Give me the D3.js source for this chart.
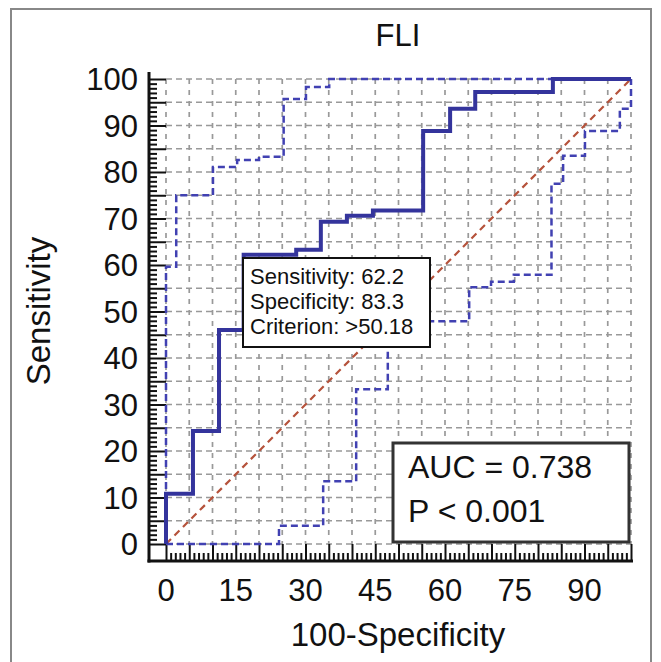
<!DOCTYPE html>
<html>
<head>
<meta charset="utf-8">
<script src="https://cdn.jsdelivr.net/npm/d3@7"></script>
<style>
  body{margin:0;background:#fff;}
  text{font-family:"Liberation Sans",Arial,sans-serif;fill:#111;}
</style>
</head>
<body>
<div id="chart"></div>
<script>
// ROC curve corners (100-specificity, sensitivity)
var rocFpr=[0,5.8,11.4,16.7,28.0,33.3,38.9,44.5,55.3,61.1,66.5,83.2,100];
var rocSens=[0,10.8,24.3,46.0,62.2,63.3,69.3,70.6,71.7,88.8,93.6,97.2,100];
// upper confidence bound
var upFpr=[0,2.2,10.1,15.3,20.0,25.3,30.1,35.1,100];
var upSens=[0,59.6,75.0,81.1,82.6,83.3,95.7,98.3,100];
// lower confidence bound
var lowFpr=[0,24.3,33.8,40.9,47.7,65.2,69.9,74.8,82.9,85.4,90.1,97.6,100];
var lowSens=[0,3.9,13.5,33.3,47.9,55.2,56.4,57.9,77.5,83.5,88.8,93.6,100];

var xTicks=[0,15,30,45,60,75,90];
var yTicks=[0,10,20,30,40,50,60,70,80,90,100];
var title='FLI';
var xLabel='100-Specificity';
var yLabel='Sensitivity';
var cutoffLines=['Sensitivity: 62.2','Specificity: 83.3','Criterion: >50.18'];
var statLines=['AUC = 0.738','P < 0.001'];

var width=661, height=662;
var plotL=166, plotR=631, plotT=79, plotB=544;
var off=17;

var svg=d3.select('#chart').append('svg')
  .attr('width',width)
  .attr('height',height);

svg.append('rect')
  .attr('x',11).attr('y',9)
  .attr('width',640).attr('height',662)
  .attr('fill','none')
  .attr('stroke','#888')
  .attr('stroke-width',2);

var x=d3.scaleLinear().domain([0,100]).range([plotL,plotR]);
var y=d3.scaleLinear().domain([0,100]).range([plotB,plotT]);

var grid=d3.range(0,101,5);

// grid
svg.append('g').selectAll('line')
  .data(grid).enter().append('line')
  .attr('x1',plotL).attr('x2',plotR)
  .attr('y1',function(d){return y(d);})
  .attr('y2',function(d){return y(d);})
  .attr('stroke','#999')
  .attr('stroke-width',1.7)
  .attr('stroke-dasharray','6,4');
svg.append('g').selectAll('line')
  .data(grid).enter().append('line')
  .attr('y1',plotT).attr('y2',plotB)
  .attr('x1',function(d){return x(d);})
  .attr('x2',function(d){return x(d);})
  .attr('stroke','#999')
  .attr('stroke-width',1.7)
  .attr('stroke-dasharray','5,6');

// axes, line offset from plot with ticks pointing inward
var minor=d3.range(0,101,1).filter(function(d){return d%5!=0;});
var yMajor=d3.axisRight(y).tickValues(grid).tickSize(off).tickSizeOuter(0).tickFormat('');
var yMinor=d3.axisRight(y).tickValues(minor).tickSize(8).tickSizeOuter(0).tickFormat('');
var gy=svg.append('g').attr('transform','translate('+(plotL-off)+',0)');
gy.call(yMajor);
gy.append('g').call(yMinor);
var xMajor=d3.axisTop(x).tickValues(grid).tickSize(off).tickSizeOuter(0).tickFormat('');
var xMinor=d3.axisTop(x).tickValues(minor).tickSize(8).tickSizeOuter(0).tickFormat('');
var gx=svg.append('g').attr('transform','translate(0,'+(plotB+off)+')');
gx.call(xMajor);
gx.append('g').call(xMinor);

svg.selectAll('.tick line').attr('stroke','#111').attr('stroke-width',2);
svg.selectAll('.domain').remove();
svg.append('line')
  .attr('x1',plotL-off).attr('x2',plotL-off)
  .attr('y1',plotT-7).attr('y2',plotB+off+1.5)
  .attr('stroke','#111').attr('stroke-width',3);
svg.append('line')
  .attr('x1',plotL-off-1.5).attr('x2',plotR+2)
  .attr('y1',plotB+off).attr('y2',plotB+off)
  .attr('stroke','#111').attr('stroke-width',3);

// tick labels
svg.append('g').selectAll('text')
  .data(yTicks).enter().append('text')
  .attr('x',138)
  .attr('y',function(d){return y(d);})
  .attr('dy','0.36em')
  .attr('text-anchor','end')
  .style('font-size','31px')
  .text(function(d){return d;});
svg.append('g').selectAll('text')
  .data(xTicks).enter().append('text')
  .attr('x',function(d){return x(d);})
  .attr('y',601)
  .attr('text-anchor','middle')
  .style('font-size','31px')
  .text(function(d){return d;});

svg.append('text')
  .attr('x',398).attr('y',46)
  .attr('text-anchor','middle')
  .style('font-size','31px')
  .text(title);
svg.append('text')
  .attr('x',398).attr('y',646)
  .attr('text-anchor','middle')
  .style('font-size','33px')
  .text(xLabel);
svg.append('text')
  .attr('transform','translate(50,311) rotate(-90)')
  .attr('text-anchor','middle')
  .style('font-size','33px')
  .text(yLabel);

// diagonal reference
svg.append('line')
  .attr('x1',x(0)).attr('y1',y(0))
  .attr('x2',x(100)).attr('y2',y(100))
  .attr('stroke','#b5523b')
  .attr('stroke-width',2.2)
  .attr('stroke-dasharray','7,5');

function pts(a,b){
  return a.map(function(d,i){return [d,b[i]];});
}
var lineBefore=d3.line()
  .x(function(d){return x(d[0]);})
  .y(function(d){return y(d[1]);})
  .curve(d3.curveStepBefore);
var lineAfter=d3.line()
  .x(function(d){return x(d[0]);})
  .y(function(d){return y(d[1]);})
  .curve(d3.curveStepAfter);

svg.append('path')
  .attr('d',lineBefore(pts(upFpr,upSens)))
  .attr('fill','none')
  .attr('stroke','#4141b2')
  .attr('stroke-width',2.5)
  .attr('stroke-dasharray','7,4');
svg.append('path')
  .attr('d',lineAfter(pts(lowFpr,lowSens)))
  .attr('fill','none')
  .attr('stroke','#4141b2')
  .attr('stroke-width',2.5)
  .attr('stroke-dasharray','7,4');
svg.append('path')
  .attr('d',lineBefore(pts(rocFpr,rocSens)))
  .attr('fill','none')
  .attr('stroke','#34349c')
  .attr('stroke-width',4);

// cutoff annotation
svg.append('rect')
  .attr('x',243).attr('y',258)
  .attr('width',187).attr('height',89)
  .attr('fill','#fff')
  .attr('stroke','#111')
  .attr('stroke-width',2);
svg.append('g').selectAll('text')
  .data(cutoffLines).enter().append('text')
  .attr('x',250)
  .attr('y',function(d,i){return 284+i*25;})
  .style('font-size','22px')
  .text(function(d){return d;});

// AUC box
svg.append('rect')
  .attr('x',393).attr('y',443)
  .attr('width',236).attr('height',99)
  .attr('fill','#fff')
  .attr('stroke','#333')
  .attr('stroke-width',3);
svg.append('g').selectAll('text')
  .data(statLines).enter().append('text')
  .attr('x',408)
  .attr('y',function(d,i){return 478+i*44;})
  .style('font-size','32px')
  .text(function(d){return d;});
</script>
</body>
</html>
